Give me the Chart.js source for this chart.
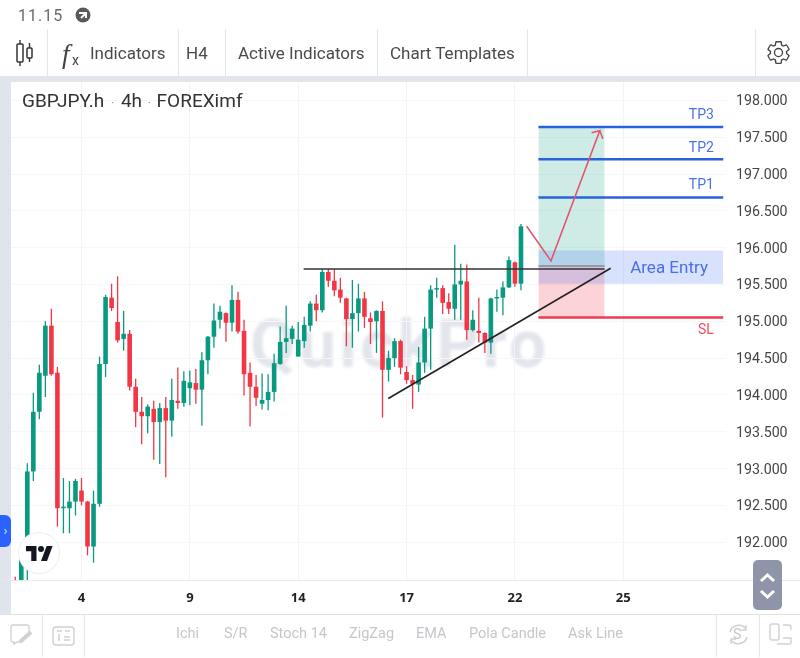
<!DOCTYPE html>
<html>
<head>
<meta charset="utf-8">
<script src="https://cdn.jsdelivr.net/npm/chart.js@4"></script>
<style>
html, body { margin: 0; padding: 0; background: #fff; overflow: hidden; }
body { width: 800px; height: 658px; position: relative; font-family: Roboto, sans-serif; color: #444; }
canvas { position: absolute; left: 0; top: 0; z-index: 1; }
.ui { position: absolute; z-index: 2; white-space: nowrap; }
.band { position: absolute; z-index: 0; }
.div { position: absolute; width: 1px; background: #e4e6ea; z-index: 2; }
.tool { font-size: 17px; top: 43px; line-height: 20px; color: #4a4a4a; }
.chip { font-size: 14.5px; top: 625px; line-height: 18px; color: #c4c6ca; }
#watermark { left: 250px; top: 306px; font: 700 66px Roboto, sans-serif; letter-spacing: 3.4px; color: #e3e5ec; z-index: 0; filter: blur(1.5px); }
svg { position: absolute; z-index: 2; overflow: visible; }
</style>
</head>
<body>
<div class="band" style="left:0;top:76px;width:800px;height:6px;background:#e2e5ea"></div>
<div class="band" style="left:0;top:82px;width:11px;height:532px;background:#e0e4ed"></div>
<div class="band" style="left:0;top:580px;width:800px;height:1px;background:#e6e8ec"></div>
<div class="band" style="left:0;top:614px;width:800px;height:1px;background:#dfe1e5"></div>
<div class="ui" id="watermark">QuickPro</div>

<canvas id="chart-gbpjpy" width="800" height="658"></canvas>

<div class="ui" style="left:18px;top:6px;font-size:16px;letter-spacing:1px;color:#6b6b6b;line-height:19px">11.15</div>
<svg style="left:75px;top:7px" width="16" height="16" viewBox="0 0 16 16"><circle cx="8" cy="8" r="7.5" fill="#5a5a5a"/><path d="M4 6 L11 6 L11 11 M11 6 L6 11" stroke="#fff" stroke-width="2" fill="none"/></svg>

<div class="div" style="left:47px;top:29px;height:47px"></div>
<div class="div" style="left:178px;top:29px;height:47px"></div>
<div class="div" style="left:225px;top:29px;height:47px"></div>
<div class="div" style="left:377px;top:29px;height:47px"></div>
<div class="div" style="left:527px;top:29px;height:47px"></div>
<div class="div" style="left:755px;top:29px;height:47px"></div>
<svg style="left:15px;top:40px" width="20" height="26" viewBox="0 0 20 26"><path d="M5 0V4M5 22V26M14.5 3V8M14.5 18V22" stroke="#333" stroke-width="1.4"/><rect x="2" y="4" width="6" height="18" rx="1" fill="none" stroke="#333" stroke-width="1.5"/><rect x="12" y="8" width="5" height="10" rx="1" fill="none" stroke="#333" stroke-width="1.5"/></svg>
<div class="ui" style="left:62px;top:39px;font:italic 27px 'Liberation Serif',serif;color:#444;line-height:30px">f</div>
<div class="ui" style="left:72px;top:52px;font-size:14px;color:#444;line-height:16px">x</div>
<div class="ui tool" style="left:90px">Indicators</div>
<div class="ui tool" style="left:186px">H4</div>
<div class="ui tool" style="left:238px">Active Indicators</div>
<div class="ui tool" style="left:390px">Chart Templates</div>
<svg style="left:765px;top:39px" width="27" height="27" viewBox="0 0 24 24"><path fill="none" stroke="#444" stroke-width="1.2" d="M19.14 12.94c.04-.3.06-.61.06-.94 0-.32-.02-.64-.07-.94l2.03-1.58c.18-.14.23-.41.12-.61l-1.92-3.32c-.12-.22-.37-.29-.59-.22l-2.39.96c-.5-.38-1.03-.7-1.62-.94l-.36-2.54c-.04-.24-.24-.41-.48-.41h-3.84c-.24 0-.43.17-.47.41l-.36 2.54c-.59.24-1.13.57-1.62.94l-2.39-.96c-.22-.08-.47 0-.59.22L2.74 8.87c-.12.21-.08.47.12.61l2.03 1.58c-.05.3-.09.63-.09.94s.02.64.07.94l-2.03 1.58c-.18.14-.23.41-.12.61l1.92 3.32c.12.22.37.29.59.22l2.39-.96c.5.38 1.03.7 1.62.94l.36 2.54c.05.24.24.41.48.41h3.84c.24 0 .44-.17.47-.41l.36-2.54c.59-.24 1.13-.56 1.62-.94l2.39.96c.22.08.47 0 .59-.22l1.92-3.32c.12-.22.07-.47-.12-.61l-2.01-1.58zM12 15.6c-1.98 0-3.6-1.62-3.6-3.6s1.62-3.6 3.6-3.6 3.6 1.62 3.6 3.6-1.62 3.6-3.6 3.6z"/></svg>

<div class="ui" style="left:22px;top:90px;font-size:19px;line-height:22px;color:#333">GBPJPY.h <span style="color:#999;font-size:12px;margin:0 2px">·</span> 4h <span style="color:#999;font-size:12px;margin:0 1px">·</span> FOREXimf</div>

<div class="ui" style="left:0;top:515px;width:11px;height:32px;background:#2962ff;border-radius:0 6px 6px 0;color:#dfe6ff;font-size:13px;line-height:31px;text-align:center">›</div>
<div class="ui" style="left:19px;top:533px;width:40px;height:40px;border-radius:50%;background:#fff;box-shadow:0 0 0 1px #eeeeee"></div>
<svg style="left:26px;top:546px" width="27" height="15" viewBox="0 0 36 20"><path fill="#131722" d="M14 20H7V7H0V0h14v20zM28 20h-8L27.5 0h8L28 20z"/><circle cx="20" cy="4" r="4" fill="#131722"/></svg>

<div class="ui" style="left:753px;top:560px;width:29px;height:50px;background:#8f95a8;border-radius:5px"></div>
<svg style="left:753px;top:560px" width="29" height="50" viewBox="0 0 29 50"><path d="M8 21 L14.5 15 L21 21 M8 31 L14.5 37 L21 31" stroke="#fff" stroke-width="3" fill="none"/></svg>

<div class="div" style="left:42px;top:615px;height:42px"></div>
<div class="div" style="left:84px;top:615px;height:42px"></div>
<div class="div" style="left:716px;top:615px;height:42px"></div>
<div class="div" style="left:759px;top:615px;height:42px"></div>
<svg style="left:10px;top:624px" width="24" height="24" viewBox="0 0 24 24"><path d="M3 1H17Q19 1 19 3V10L11 18H7L4 20V18H3Q1 18 1 16V3Q1 1 3 1Z" fill="none" stroke="#cfd1d4" stroke-width="1.3"/><path d="M10 18L21 8" stroke="#cfd1d4" stroke-width="4"/></svg>
<svg style="left:52px;top:626px" width="23" height="20" viewBox="0 0 23 20"><rect x="1" y="1" width="21" height="18" rx="3" fill="none" stroke="#cfd1d4" stroke-width="1.4"/><path d="M5 5H10M13 5H18M7 8V15M12 11H18M12 14H18" stroke="#cfd1d4" stroke-width="1.6"/></svg>
<div class="ui chip" style="left:176px">Ichi</div>
<div class="ui chip" style="left:224px">S/R</div>
<div class="ui chip" style="left:270px">Stoch 14</div>
<div class="ui chip" style="left:349px">ZigZag</div>
<div class="ui chip" style="left:416px">EMA</div>
<div class="ui chip" style="left:469px">Pola Candle</div>
<div class="ui chip" style="left:568px">Ask Line</div>
<svg style="left:727px;top:623px" width="23" height="23" viewBox="0 0 23 23"><path d="M3 9A9 9 0 0 1 19 6M20 14A9 9 0 0 1 4 17" fill="none" stroke="#cfd1d4" stroke-width="1.5"/><path d="M19 2V7H14M4 21V16H9" fill="none" stroke="#cfd1d4" stroke-width="1.4"/></svg>
<div class="ui" style="left:733px;top:625px;font-size:14px;line-height:18px;color:#c4c6ca">S</div>
<svg style="left:769px;top:623px" width="24" height="24" viewBox="0 0 24 24"><rect x="1" y="1" width="9" height="16" rx="2" fill="none" stroke="#cfd1d4" stroke-width="1.4"/><path d="M14 2H19Q22 2 22 5V7M14 15H22V20Q22 21 20 21H8" fill="none" stroke="#cfd1d4" stroke-width="1.4"/></svg>

<script>
// GBPJPY 4h candles, oldest first
const candleOpen = [191.46,191.35,191.89,192.96,193.77,194.26,194.94,194.30,192.46,192.46,192.55,192.70,192.55,191.94,192.52,194.42,195.32,194.99,194.76,194.83,194.11,193.77,193.71,193.81,193.63,193.82,193.65,193.92,193.89,194.09,194.16,194.07,194.47,194.79,195.02,195.11,194.98,195.29,194.87,194.30,194.11,193.88,193.93,194.04,194.42,194.72,194.76,194.52,194.73,194.94,195.24,195.15,195.67,195.55,195.43,195.31,195.03,195.11,195.31,195.04,195.00,195.14,194.34,194.50,194.73,194.31,194.20,194.14,194.44,194.90,195.43,195.45,195.26,195.17,195.50,195.54,194.88,194.87,194.84,194.71,195.31,195.32,195.46,195.80,195.51];
const candleHigh = [191.53,191.92,193.07,194.03,194.41,195.00,195.17,194.38,192.87,192.83,192.86,192.87,192.56,192.70,194.52,195.36,195.51,195.61,195.14,194.88,194.22,193.97,193.87,193.92,193.89,193.97,194.22,194.37,194.32,194.33,194.35,194.58,194.80,195.24,195.21,195.12,195.49,195.40,195.02,194.44,194.27,194.29,194.28,194.56,194.93,195.21,194.94,194.99,195.06,195.27,195.36,195.71,195.71,195.71,195.59,195.32,195.56,195.51,195.40,195.12,195.15,195.27,194.60,194.77,194.75,194.39,194.27,194.65,195.06,195.49,195.59,195.49,195.38,196.04,195.78,195.77,195.15,195.32,194.85,195.32,195.43,195.54,195.88,195.81,196.32];
const candleLow = [191.30,191.30,191.35,192.83,193.67,193.97,194.26,192.21,192.12,192.12,192.36,192.50,191.82,191.72,192.48,194.24,195.14,194.71,194.60,194.06,193.56,193.33,193.48,193.12,193.06,192.88,193.43,193.81,193.84,193.86,193.88,193.58,194.28,194.64,194.90,194.72,194.86,194.83,193.99,193.57,193.85,193.80,193.79,193.91,194.41,194.57,194.69,194.52,194.64,194.86,195.00,195.12,195.47,195.34,195.25,194.66,194.64,194.86,194.91,194.69,194.57,193.69,194.18,194.38,194.28,194.15,193.81,194.04,194.30,194.34,195.32,195.10,195.10,195.02,195.02,194.75,194.86,194.71,194.57,194.56,195.13,195.08,195.45,195.47,195.42];
const candleClose = [191.35,191.87,192.96,193.77,194.30,194.94,194.28,192.46,192.48,192.55,192.83,192.55,191.94,192.52,194.42,195.33,195.18,194.74,194.83,194.11,193.77,193.71,193.84,193.63,193.82,193.65,193.93,193.89,194.19,194.17,194.07,194.47,194.79,195.01,195.13,194.98,195.29,194.86,194.28,194.11,193.96,193.93,194.04,194.43,194.72,194.77,194.90,194.75,194.95,195.24,195.15,195.67,195.55,195.42,195.32,195.03,195.11,195.31,195.06,194.99,195.14,194.34,194.50,194.73,194.37,194.20,194.15,194.44,194.90,195.43,195.45,195.25,195.17,195.50,195.55,194.88,195.02,194.84,194.71,195.31,195.33,195.46,195.83,195.51,196.29];

// x axis: candle index of each date label
const dayLabels = ['4','9','14','17','22','25'];
const dayIndex = [11,29,47,65,83,101];
const priceTicks = [192,192.5,193,193.5,194,194.5,195,195.5,196,196.5,197,197.5,198];

// trade plan drawn on the chart (prices and candle indexes)
const tradeStart = 86.9, boxEnd = 97.9, levelEnd = 117.6;
const tp1Price = 196.68, tp2Price = 197.2, tp3Price = 197.64, slPrice = 195.05;
const entryPrice = 195.75, entryTop = 195.96, entryBottom = 195.51;
const resistancePrice = 195.71, resistanceFrom = 47.9;
const trendX = [61.96, 98.9];
const trendY = [193.95, 195.72];
const arrowX = [84.95, 88.99, 97.1, 95.74, 97.1, 97.6];
const arrowY = [196.29, 195.82, 197.59, 197.56, 197.59, 197.48];

const upColor = '#089981';
const downColor = '#f23645';
const blue = '#2962dd';

const candleColor = (ctx) => candleClose[ctx.dataIndex] >= candleOpen[ctx.dataIndex] ? upColor : downColor;

// flat line between two x values, optionally filled down to another price
function levelLine(fromX, toX, price, color, width, order) {
    return {
        type: 'line',
        data: [{ x: fromX, y: price }, { x: toX, y: price }],
        borderColor: color,
        borderWidth: width,
        pointRadius: 0,
        order: order
    };
}
function zone(fromX, toX, top, bottom, color, order) {
    return {
        type: 'line',
        data: [{ x: fromX, y: top }, { x: toX, y: top }],
        borderWidth: 0,
        pointRadius: 0,
        fill: { value: bottom },
        backgroundColor: color,
        order: order
    };
}

const notes = [
    { text: 'TP3', x: 116.05, y: 197.79, color: '#4a6fe8', align: 'right' },
    { text: 'TP2', x: 116.05, y: 197.35, color: '#4a6fe8', align: 'right' },
    { text: 'TP1', x: 116.05, y: 196.84, color: '#4a6fe8', align: 'right' },
    { text: 'SL', x: 116.05, y: 194.88, color: '#ef4d62', align: 'right' },
    { text: 'Area Entry', x: 108.6, y: 195.71, color: '#4a6fe8', align: 'center', size: 17 }
];

const notesPlugin = {
    id: 'notes',
    afterDatasetsDraw(chart) {
        const ctx = chart.ctx;
        ctx.save();
        ctx.textBaseline = 'middle';
        notes.forEach(n => {
            ctx.font = (n.size || 14) + 'px Roboto, sans-serif';
            ctx.fillStyle = n.color;
            ctx.textAlign = n.align;
            ctx.fillText(n.text, chart.scales.x.getPixelForValue(n.x), chart.scales.y.getPixelForValue(n.y));
        });
        ctx.restore();
    }
};

const arrowPoints = arrowX.map((x, i) => ({ x: x, y: arrowY[i] }));
const trendPoints = trendX.map((x, i) => ({ x: x, y: trendY[i] }));

new Chart(document.getElementById('chart-gbpjpy').getContext('2d'), {
    type: 'bar',
    data: {
        datasets: [
            // bodies on top of wicks
            {
                data: candleOpen.map((o, i) => ({ x: i, y: [o, candleClose[i]] })),
                backgroundColor: candleColor,
                barThickness: 4.6,
                inflateAmount: 0,
                grouped: false,
                order: 5
            },
            {
                data: candleLow.map((l, i) => ({ x: i, y: [l, candleHigh[i]] })),
                backgroundColor: candleColor,
                barThickness: 1.3,
                inflateAmount: 0,
                grouped: false,
                order: 6
            },
            levelLine(tradeStart, levelEnd, tp3Price, blue, 2.5, 2),
            levelLine(tradeStart, levelEnd, tp2Price, blue, 2.5, 2),
            levelLine(tradeStart, levelEnd, tp1Price, blue, 2.5, 2),
            levelLine(tradeStart, levelEnd, slPrice, '#ef3b52', 2.5, 2),
            levelLine(tradeStart, boxEnd, entryPrice, '#8b8b93', 1.5, 3),
            levelLine(resistanceFrom, boxEnd, resistancePrice, '#333333', 1.5, 1),
            zone(tradeStart, levelEnd, entryTop, entryBottom, 'rgba(60, 110, 245, 0.2)', 8),
            zone(tradeStart, boxEnd, tp3Price, entryPrice, 'rgba(8, 153, 129, 0.2)', 9),
            zone(tradeStart, boxEnd, entryPrice, slPrice, 'rgba(242, 54, 69, 0.22)', 9),
            {
                type: 'line',
                data: trendPoints,
                borderColor: '#222222',
                borderWidth: 1.6,
                pointRadius: 0,
                order: 1
            },
            {
                type: 'line',
                data: arrowPoints,
                borderColor: '#e5506a',
                borderWidth: 1.5,
                pointRadius: 0,
                order: 0
            }
        ]
    },
    options: {
        responsive: false,
        animation: false,
        layout: { padding: { left: 11, top: 82, bottom: 44, right: 0 } },
        plugins: { legend: { display: false }, tooltip: { enabled: false } },
        scales: {
            x: {
                type: 'linear',
                offset: false,
                min: -0.71,
                max: 118.06,
                grid: { color: '#f1f3f6', drawTicks: false, offset: false },
                border: { display: false },
                afterBuildTicks: (axis) => { axis.ticks = dayIndex.map(v => ({ value: v })); },
                afterFit: (axis) => { axis.height = 34; },
                ticks: {
                    autoSkip: false,
                    maxRotation: 0,
                    padding: 10,
                    color: '#222222',
                    font: { family: "'Noto Sans', sans-serif", size: 13, weight: 'bold' },
                    callback: (val) => dayLabels[dayIndex.indexOf(val)]
                }
            },
            y: {
                position: 'right',
                min: 191.485,
                max: 198.25,
                grid: { color: '#f6f7f9', drawTicks: false },
                border: { display: false },
                afterBuildTicks: (axis) => { axis.ticks = priceTicks.map(v => ({ value: v })); },
                afterFit: (axis) => { axis.width = 74; },
                ticks: {
                    padding: 10,
                    labelOffset: 1.5,
                    color: '#444444',
                    font: { family: 'Roboto, sans-serif', size: 14.2 },
                    callback: (val) => val.toFixed(3)
                }
            }
        }
    },
    plugins: [notesPlugin]
});
</script>
</body>
</html>
